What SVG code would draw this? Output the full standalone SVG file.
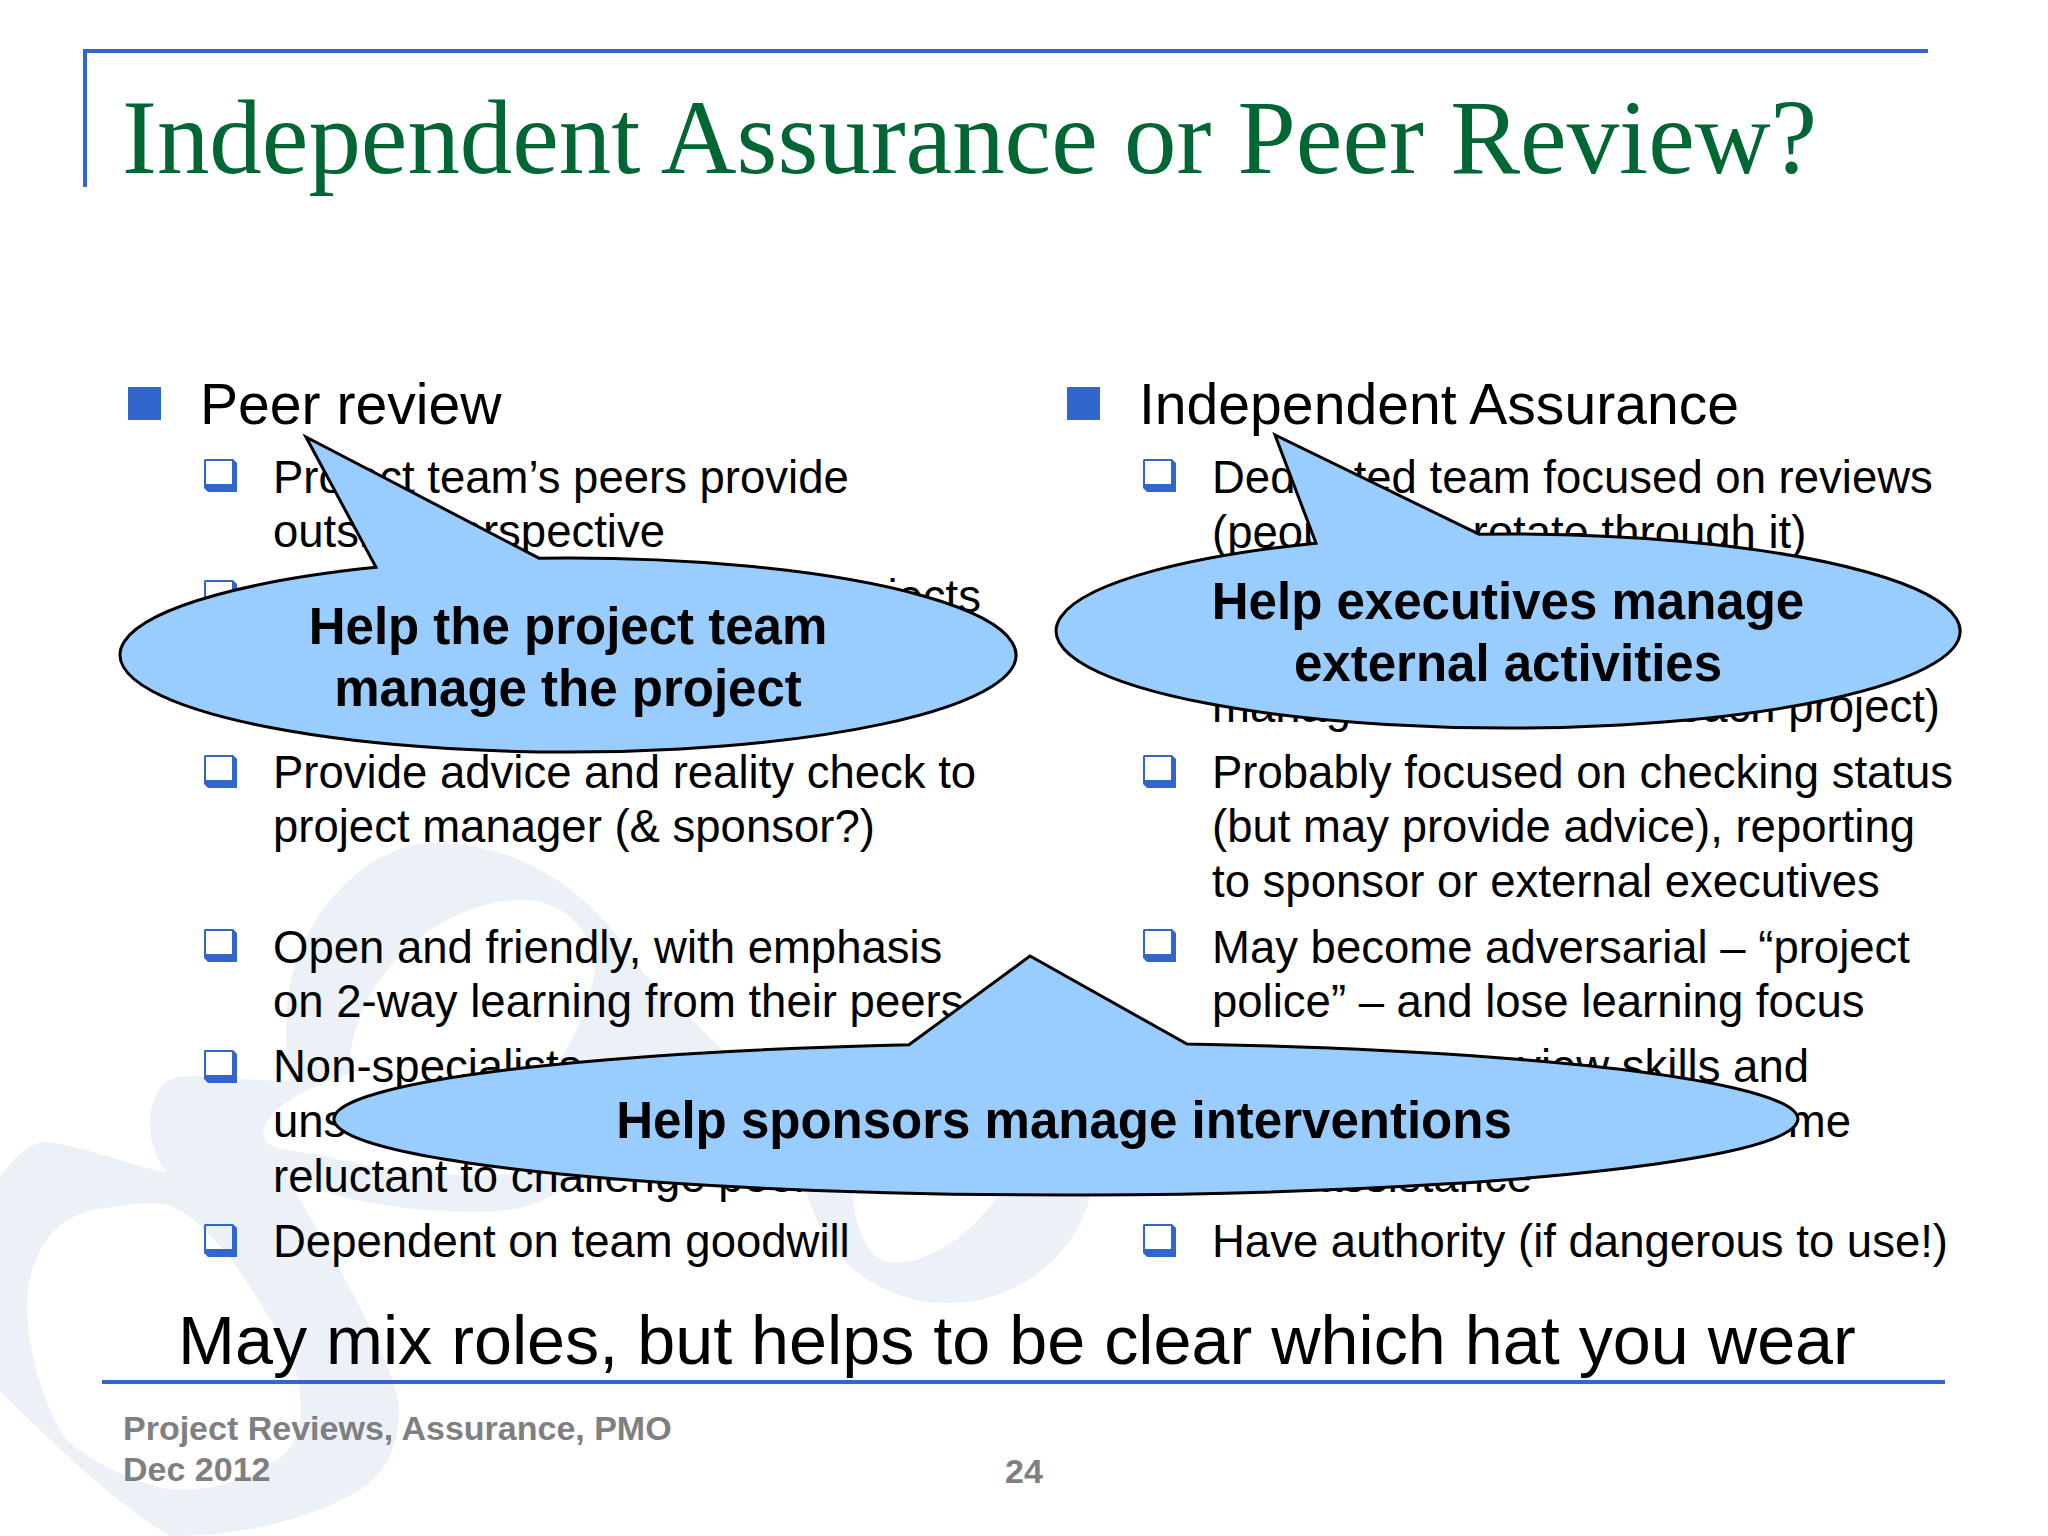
<svg xmlns="http://www.w3.org/2000/svg" width="2048" height="1536" viewBox="0 0 2048 1536">
<style>
text{font-family:"Liberation Sans",Arial,sans-serif;fill:#000}
.title{font-family:"Liberation Serif","Times New Roman",serif;font-size:104.9px;fill:#006633}
.h{font-size:57.1px}
.b{font-size:45.5px}
.c{font-size:51px;font-weight:bold;text-anchor:middle}
.f{font-size:34px;font-weight:bold;fill:#7f7f82}
.e{text-anchor:end}
.pale{fill:#ebf1f7}
.hole{fill:#fff}
.call{fill:#99ccff;stroke:#000;stroke-width:3;stroke-linejoin:miter}
.rule{fill:#3366cc}
</style>
<defs>
<path id="chk" fill="#3366cc" fill-rule="evenodd" d="M1,0H29L33,4V33H4L0,29V1ZM2,2V25H28V2Z"/>
<rect id="sq" width="33" height="33" fill="#3366cc"/>
</defs>
<rect width="2048" height="1536" fill="#fff"/>
<g id="watermark">
<path class="pale" d="M0,1178C15,1155 30,1142 48,1142C90,1148 130,1165 167,1173C148,1150 146,1115 155,1098C160,1082 175,1075 190,1076L295,1082L267,1145C300,1200 380,1330 397,1395C405,1440 385,1475 360,1490C300,1525 230,1536 170,1536C110,1500 50,1440 0,1391Z"/>
<path class="pale" d="M290,1082C285,1050 285,1010 290,985C305,910 370,843 433,843C530,843 600,900 643,973L720,1100L590,1120C595,1170 560,1212 480,1212C400,1212 330,1200 280,1173L250,1140Z"/>
<path class="hole" d="M27,1307C27,1260 50,1215 100,1209C130,1204 150,1202 167,1204C195,1215 215,1240 233,1262C265,1310 300,1360 300,1395C305,1430 290,1455 273,1462C240,1485 200,1492 167,1489C125,1480 90,1460 67,1440C45,1410 27,1350 27,1307Z"/>
<path class="hole" d="M350,1073C345,1000 420,905 517,900C570,897 605,945 592,985C585,1015 575,1035 560,1060L540,1170C480,1180 400,1175 320,1155C290,1150 265,1150 263,1135C265,1110 300,1090 350,1073Z"/>
<path class="pale" d="M643,973L720,1047L853,1195C855,1230 870,1263 893,1263C930,1263 970,1235 997,1197L1090,1197C1075,1255 1020,1303 947,1303C880,1303 825,1260 807,1193L590,1060L592,985Z"/>
</g>
<g id="frame">
<rect class="rule" x="83" y="49" width="1845" height="4"/>
<rect class="rule" x="83" y="49" width="4" height="138"/>
<rect class="rule" x="102" y="1380" width="1843" height="4"/>
</g>
<text class="title" x="122" y="173">Independent Assurance or Peer Review?</text>
<g id="peer-review">
<use href="#sq" x="128" y="387"/>
<text class="h" x="200" y="424">Peer review</text>
<use href="#chk" x="204" y="459"/><use href="#chk" x="204" y="580"/><use href="#chk" x="204" y="755"/><use href="#chk" x="204" y="929"/><use href="#chk" x="204" y="1050"/><use href="#chk" x="204" y="1224"/>
<text class="b" x="273" y="493">Project team’s peers provide</text>
<text class="b" x="273" y="547">outside perspective</text>
<text class="b e" x="981" y="612">projects</text>
<text class="b" x="273" y="788">Provide advice and reality check to</text>
<text class="b" x="273" y="842">project manager (&amp; sponsor?)</text>
<text class="b" x="273" y="963">Open and friendly, with emphasis</text>
<text class="b" x="273" y="1017">on 2-way learning from their peers</text>
<text class="b" x="273" y="1082">Non-specialists</text>
<text class="b" x="273" y="1137">uns</text>
<text class="b" x="273" y="1192">reluctant to challenge peers</text>
<text class="b" x="273" y="1257">Dependent on team goodwill</text>
</g>
<g id="independent-assurance">
<use href="#sq" x="1067" y="387"/>
<text class="h" x="1139" y="424">Independent Assurance</text>
<use href="#chk" x="1143" y="459"/><use href="#chk" x="1143" y="755"/><use href="#chk" x="1143" y="929"/><use href="#chk" x="1143" y="1224"/>
<text class="b" x="1212" y="493">Dedicated team focused on reviews</text>
<text class="b" x="1212" y="548">(people who rotate through it)</text>
<text class="b" x="1212" y="722">manage</text>
<text class="b e" x="1940" y="722">each project)</text>
<text class="b" x="1212" y="788">Probably focused on checking status</text>
<text class="b" x="1212" y="842">(but may provide advice), reporting</text>
<text class="b" x="1212" y="897">to sponsor or external executives</text>
<text class="b" x="1212" y="963">May become adversarial – “project</text>
<text class="b" x="1212" y="1017">police” – and lose learning focus</text>
<text class="b e" x="1809" y="1082">review skills and</text>
<text class="b e" x="1851" y="1137">me</text>
<text class="b e" x="1532" y="1192">assistance</text>
<text class="b" x="1212" y="1257">Have authority (if dangerous to use!)</text>
</g>
<g id="callout-team">
<path class="call" d="M539,558.204A448,97 0 1 1 376,567.36L306,437Z"/>
<text class="c" x="568" y="644">Help the project team</text>
<text class="c" x="568" y="706">manage the project</text>
</g>
<g id="callout-executives">
<path class="call" d="M1479,534.2A452,97 0 1 1 1316,543.19L1275,435Z"/>
<text class="c" x="1508" y="619">Help executives manage</text>
<text class="c" x="1508" y="681">external activities</text>
</g>
<g id="callout-sponsors">
<path class="call" d="M1187,1044.05A732,76 0 1 1 909,1044.77L1030,956Z"/>
<text class="c" x="1064" y="1138">Help sponsors manage interventions</text>
</g>
<text id="summary" x="178" y="1364" font-size="68.3">May mix roles, but helps to be clear which hat you wear</text>
<g id="footer">
<text class="f" x="123" y="1440">Project Reviews, Assurance, PMO</text>
<text class="f" x="123" y="1481">Dec 2012</text>
<text class="f" x="1005" y="1483">24</text>
</g>
</svg>
